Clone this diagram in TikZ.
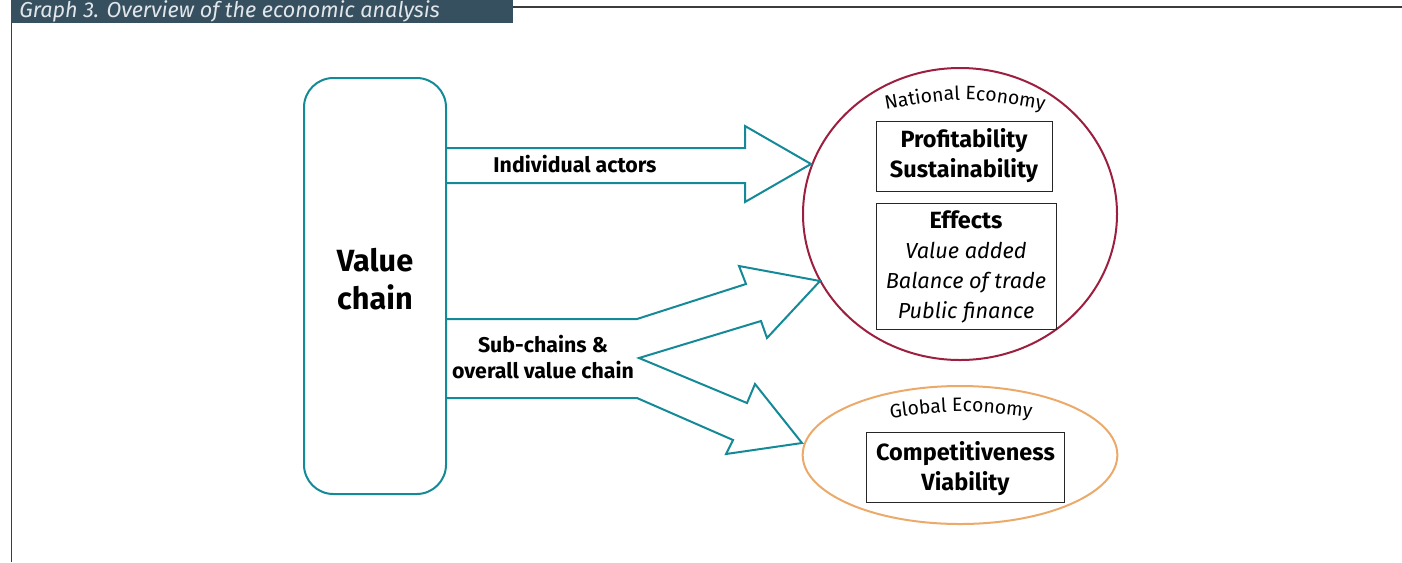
\documentclass[tikz,border=0pt]{standalone}
\usepackage{fontspec}
\setmainfont{Fira Sans}
\usetikzlibrary{shapes.geometric,decorations.text}

\definecolor{vcteal}{RGB}{20,138,152}
\definecolor{natred}{RGB}{156,31,63}
\definecolor{globorange}{RGB}{235,170,105}
\definecolor{headbar}{RGB}{55,80,95}
\definecolor{headtext}{RGB}{225,230,234}
\definecolor{framegray}{RGB}{60,60,60}

\tikzset{
  flow/.style={draw=vcteal, line width=1.5pt, line join=miter},
  databox/.style={draw=black!85, line width=0.6pt, align=center, inner sep=0pt,
    font=\bfseries\fontsize{17.6}{22.5}\selectfont},
  flowlabel/.style={align=center, inner sep=0pt, font=\bfseries\fontsize{16}{19.5}\selectfont},
  econlabel/.style={decorate, decoration={text along path, text align=center,
    text={|\fontsize{14.5}{16}\selectfont|#1}}},
}

\begin{document}
\begin{tikzpicture}[x=0.75pt, y=-0.75pt]
	\useasboundingbox (0,0) rectangle (1402,562);
	% header bar and frame
	\fill[headbar] (11,0) rectangle (513,23);
	\node[anchor=base west, inner sep=0pt, text=headtext,
		font=\itshape\fontsize{16.2}{18}\selectfont] (title) at (19,17)
		{Graph 3. Overview of the economic analysis};
	\draw[framegray, line width=0.8pt] (513,7) -- (1402,7);
	\draw[framegray, line width=0.8pt] (11.5,23) -- (11.5,562);

	% value chain
	\node[draw=vcteal, line width=1.5pt, rounded corners=22pt, minimum width=106.5pt,
		minimum height=312pt, inner sep=0pt] (vc) at (375,286) {};
	\node[align=center, inner sep=0pt, font=\bfseries\fontsize{23}{28}\selectfont]
		(vclabel) at (375,279) {Value\\chain};

	% national and global economy
	\node[draw=natred, line width=1.5pt, ellipse, minimum width=235.5pt,
		minimum height=219pt, inner sep=0pt] (nat) at (960,214) {};
	\node[draw=globorange, line width=1.5pt, ellipse, minimum width=236pt,
		minimum height=103.5pt, inner sep=0pt] (glob) at (960,455) {};
	\path[econlabel={National Economy}] (880,111) .. controls (965,96) .. (1050,111);
	\path[econlabel={Global Economy}] (876,420) .. controls (961,409) .. (1046,420);

	\node[databox, minimum width=132pt, minimum height=52.5pt]
		(prof) at (964,156) {Profitability\\Sustainability};
	\node[databox, minimum width=135pt, minimum height=94.5pt]
		(eff) at (966,266) {\rule{0pt}{15pt}Effects\\\mdseries\itshape\fontsize{16.3}{22.5}\selectfont Value added\\\mdseries\itshape\fontsize{16.3}{22.5}\selectfont Balance of trade\\\mdseries\itshape\fontsize{16.3}{22.5}\selectfont Public finance};
	\node[databox, minimum width=148pt, minimum height=52.5pt]
		(comp) at (965.5,467) {\rule{0pt}{16pt}Competitiveness\\Viability};

	% block arrows
	\draw[flow] (vc.east |- 0,148) -- (745,148) -- (745,126) -- (811,164)
		-- (745,202) -- (745,183) -- (vc.east |- 0,183);
	\draw[flow] (vc.east |- 0,319) -- (637,319) -- (746,284) -- (739,266) -- (820,281)
		-- (767,338) -- (761,321) -- (639,358) -- (747,403) -- (755,384) -- (802,443)
		-- (726,454) -- (733,440) -- (637,398) -- (vc.east |- 0,398);
	\node[flowlabel] (indiv) at (575,164) {Individual actors};
	\node[flowlabel] (subch) at (543,357) {Sub-chains \&\\overall value chain};
\end{tikzpicture}
\end{document}
